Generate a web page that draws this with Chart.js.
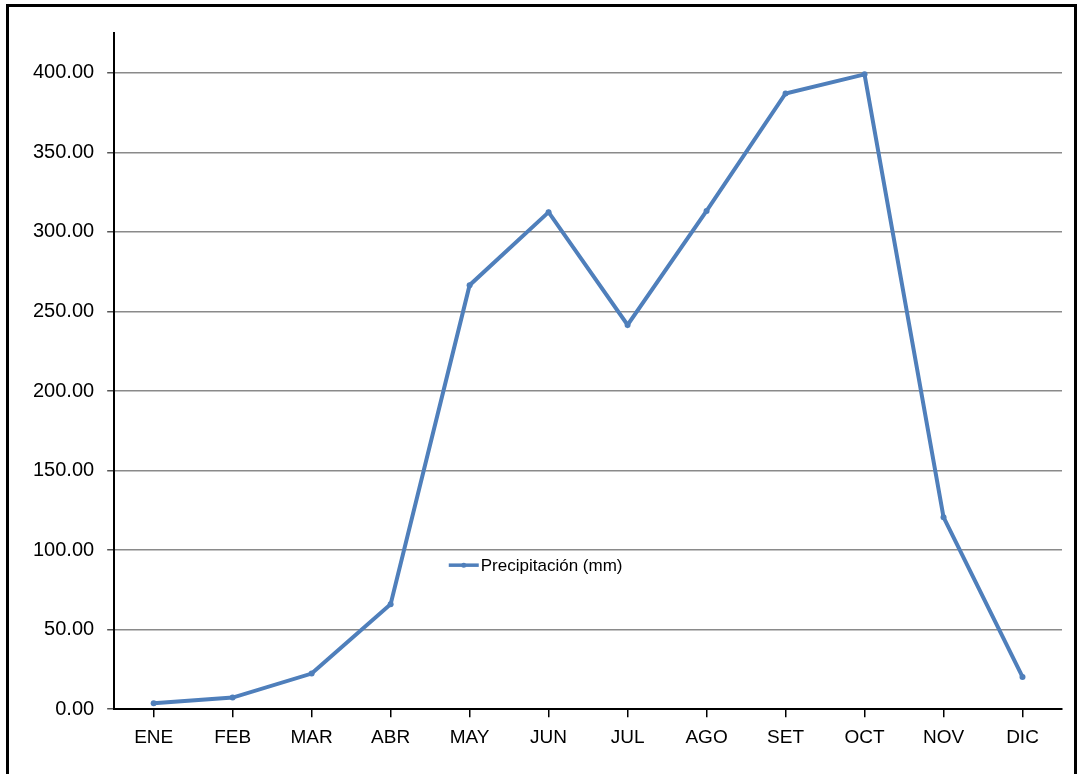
<!DOCTYPE html>
<html>
<head>
<meta charset="utf-8">
<script src="https://cdn.jsdelivr.net/npm/chart.js@4/dist/chart.umd.min.js"></script>
<style>
  html, body { margin: 0; padding: 0; background: #fff; }
  #wrap { position: relative; width: 1080px; height: 774px; }
  #frame { position: absolute; left: 6px; top: 4px; width: 1065px; height: 768px; border: 3px solid #000; border-bottom-color: #333; pointer-events: none; }
  canvas { position: absolute; left: 0; top: 0; }
</style>
</head>
<body>
<div id="wrap">
  <canvas id="c" width="1080" height="774"></canvas>
  <div id="frame"></div>
</div>
<script>
const months = ['ENE', 'FEB', 'MAR', 'ABR', 'MAY', 'JUN', 'JUL', 'AGO', 'SET', 'OCT', 'NOV', 'DIC'];
const precipitacion = [3.8, 7.3, 22.4, 66.0, 266.5, 312.4, 241.5, 313.2, 387.0, 399.0, 120.7, 20.3];
const seriesName = 'Precipitación (mm)';
const yTickStep = 50;
const yTop = 425;

const lineColor = '#4f7fbb';
const fontFamily = '"Liberation Sans", Arial, sans-serif';

// Legend drawn inside the plot area, in the middle-left region
const innerLegend = {
  id: 'innerLegend',
  afterDatasetsDraw(chart) {
    const { ctx, chartArea } = chart;
    const x0 = chartArea.left + (chartArea.right - chartArea.left) * 0.353;
    const y0 = chartArea.top + (chartArea.bottom - chartArea.top) * 0.787;
    ctx.save();
    ctx.strokeStyle = lineColor;
    ctx.lineWidth = 3.5;
    ctx.beginPath();
    ctx.moveTo(x0, y0);
    ctx.lineTo(x0 + 30, y0);
    ctx.stroke();
    ctx.fillStyle = lineColor;
    ctx.beginPath();
    ctx.arc(x0 + 15, y0, 2.5, 0, Math.PI * 2);
    ctx.fill();
    ctx.fillStyle = '#000';
    ctx.font = '17px ' + fontFamily;
    ctx.textBaseline = 'middle';
    ctx.textAlign = 'left';
    ctx.fillText(seriesName, x0 + 32, y0 + 1);
    ctx.restore();
  }
};

new Chart(document.getElementById('c'), {
  type: 'line',
  data: {
    labels: months,
    datasets: [{
      label: seriesName,
      data: precipitacion,
      borderColor: lineColor,
      backgroundColor: lineColor,
      borderWidth: 4,
      pointRadius: 3,
      pointHoverRadius: 3,
      pointBorderWidth: 0,
      tension: 0,
      fill: false
    }]
  },
  options: {
    responsive: false,
    animation: false,
    devicePixelRatio: 1,
    layout: { padding: { left: 20, right: 18, top: 33, bottom: 16 } },
    plugins: {
      legend: { display: false },
      tooltip: { enabled: false }
    },
    scales: {
      x: {
        offset: true,
        grid: {
          display: true,
          drawOnChartArea: false,
          drawTicks: true,
          tickLength: 8,
          color: '#000',
          lineWidth: 1.5,
          offset: false
        },
        border: { display: true, color: '#000', width: 2 },
        ticks: {
          color: '#000',
          padding: 9,
          font: { family: fontFamily, size: 19 },
          maxRotation: 0,
          autoSkip: false
        }
      },
      y: {
        min: 0,
        max: yTop,
        afterBuildTicks(scale) {
          scale.ticks = scale.ticks.filter(t => t.value % yTickStep === 0);
        },
        grid: {
          color: '#8a8a8a',
          lineWidth: 1.5,
          drawTicks: true,
          tickLength: 7,
          tickColor: '#555'
        },
        border: { display: true, color: '#000', width: 2 },
        ticks: {
          stepSize: yTickStep,
          color: '#000',
          padding: 13,
          font: { family: fontFamily, size: 20 },
          callback: v => Number(v).toFixed(2)
        }
      }
    }
  },
  plugins: [innerLegend]
});
</script>
</body>
</html>
